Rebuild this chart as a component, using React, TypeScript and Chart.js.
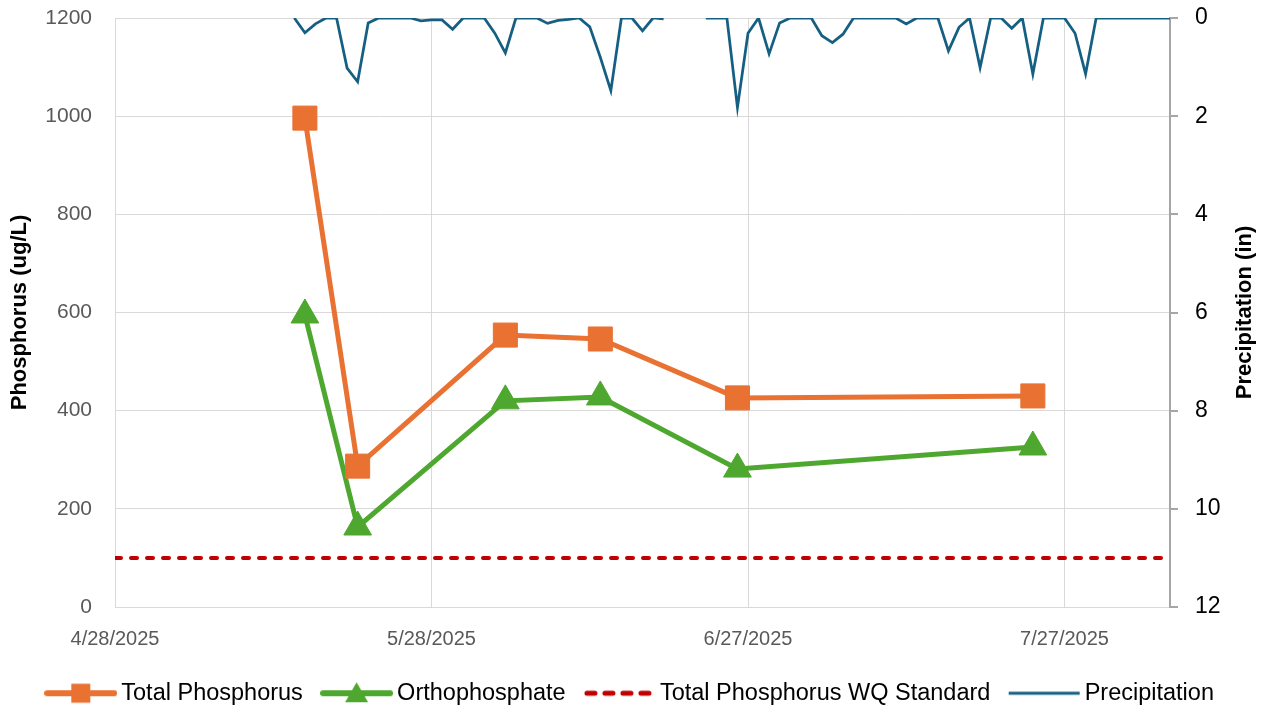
import { useEffect, useRef } from 'react';
import { Chart, registerables } from 'chart.js';

Chart.register(...registerables);

// ---- data ----
const AXIS_START = '2025-04-28';
const AXIS_END = '2025-08-06';
const xTickDates = ['2025-04-28', '2025-05-28', '2025-06-27', '2025-07-27'];
const xTickLabels = ['4/28/2025', '5/28/2025', '6/27/2025', '7/27/2025'];

const sampleDates = ['2025-05-16', '2025-05-21', '2025-06-04', '2025-06-13', '2025-06-26', '2025-07-24'];
const totalPhosphorus = [996, 287, 554, 546, 426, 430];
const orthophosphate = [595, 163, 420, 428, 281, 326];

const standardDates = ['2025-04-28', '2025-08-06'];
const standardValues = [100, 100];

// daily precipitation (in), starting 5/15/2025
const precipStart = '2025-05-15';
const precipitation: (number | null)[] = [
  0, 0.30, 0.12, 0, 0, 1.02, 1.30, 0.10, 0, 0,
  0, 0, 0.06, 0.04, 0.04, 0.23, 0, 0, 0, 0.31,
  0.71, 0, 0, 0, 0.11, 0.05, 0.03, 0, 0.18, 0.80,
  1.48, 0, 0, 0.26, 0, 0.02, null, null, null, 0,
  0, 0, 1.82, 0.31, 0, 0.73, 0.10, 0, 0, 0,
  0.36, 0.50, 0.33, 0, 0, 0, 0, 0, 0.12, 0,
  0, 0, 0.67, 0.19, 0, 1.01, 0, 0, 0.21, 0,
  1.14, 0, 0, 0, 0.31, 1.14, 0, 0, 0, 0,
  0, 0, 0, 0,
];

const leftTicks = { min: 0, max: 1200, step: 200 };
const rightTicks = { min: 0, max: 12, step: 2 };

const dayIndex = (iso: string) =>
  (Date.parse(iso + 'T00:00:00Z') - Date.parse(AXIS_START + 'T00:00:00Z')) / 86400000;

// ---- layout / style ----
const W = 1266;
const H = 710;
const PLOT_LEFT = 115;
const PLOT_RIGHT = 1170;
const PLOT_TOP = 18;
const PLOT_BOTTOM = 607;
const PAD_B = -5;

const ORANGE = '#E97132';
const GREEN = '#4EA72E';
const RED = '#C00000';
const BLUE = '#156082';
const FONT = "'Liberation Sans', Arial, sans-serif";

const LEG_FONT = 23.5;
const SYM_W = 73;
const SYM_BOX = 57.5;

function makeSymbol(kind: number): HTMLCanvasElement {
  const c = document.createElement('canvas');
  c.width = SYM_W;
  c.height = 26;
  const g = c.getContext('2d')!;
  const cy = 13;
  if (kind === 0) {
    g.strokeStyle = ORANGE;
    g.lineWidth = 6;
    g.lineCap = 'round';
    g.beginPath(); g.moveTo(3, cy); g.lineTo(SYM_W - 3, cy); g.stroke();
    g.fillStyle = ORANGE;
    g.fillRect(SYM_W / 2 - 9.5, cy - 9.5, 19, 19);
  } else if (kind === 1) {
    g.strokeStyle = GREEN;
    g.lineWidth = 6;
    g.lineCap = 'round';
    g.beginPath(); g.moveTo(3, cy); g.lineTo(SYM_W - 3, cy); g.stroke();
    g.fillStyle = GREEN;
    g.beginPath();
    g.moveTo(SYM_W / 2, cy - 11);
    g.lineTo(SYM_W / 2 + 11.5, cy + 9);
    g.lineTo(SYM_W / 2 - 11.5, cy + 9);
    g.closePath(); g.fill();
  } else if (kind === 2) {
    g.strokeStyle = RED;
    g.lineWidth = 5;
    g.lineCap = 'round';
    g.setLineDash([8, 10]);
    g.beginPath(); g.moveTo(4, cy); g.lineTo(SYM_W - 3, cy); g.stroke();
  } else {
    g.strokeStyle = BLUE;
    g.lineWidth = 3;
    g.beginPath(); g.moveTo(1, cy); g.lineTo(SYM_W - 1, cy); g.stroke();
  }
  return c;
}

const rightTitlePlugin = {
  id: 'rightTitle',
  afterDraw(chart: any) {
    const { ctx, chartArea } = chart;
    ctx.save();
    ctx.translate(1245, (chartArea.top + chartArea.bottom) / 2);
    ctx.rotate(-Math.PI / 2);
    ctx.font = `bold 22px ${FONT}`;
    ctx.fillStyle = '#000';
    ctx.textAlign = 'center';
    ctx.textBaseline = 'middle';
    ctx.fillText('Precipitation (in)', 0, 0);
    ctx.restore();
  },
};

export default function App() {
  const ref = useRef<HTMLCanvasElement>(null);

  useEffect(() => {
    document.body.style.margin = '0';
    const symbols = [0, 1, 2, 3].map(makeSymbol);
    const xMin = dayIndex(AXIS_START);
    const xMax = dayIndex(AXIS_END);
    const p0 = dayIndex(precipStart);

    const chart = new Chart(ref.current!, {
      type: 'line',
      data: {
        datasets: [
          {
            label: 'Total Phosphorus',
            data: sampleDates.map((d, i) => ({ x: dayIndex(d), y: totalPhosphorus[i] })),
            borderColor: ORANGE,
            backgroundColor: ORANGE,
            borderWidth: 5,
            pointStyle: 'rect',
            pointRadius: 17,
            pointBorderWidth: 1,
            pointBackgroundColor: ORANGE,
            pointBorderColor: ORANGE,
            tension: 0,
            yAxisID: 'y',
          },
          {
            label: 'Orthophosphate',
            data: sampleDates.map((d, i) => ({ x: dayIndex(d), y: orthophosphate[i] })),
            borderColor: GREEN,
            backgroundColor: GREEN,
            borderWidth: 5,
            pointStyle: 'triangle',
            pointRadius: 16,
            pointBorderWidth: 1,
            pointBackgroundColor: GREEN,
            pointBorderColor: GREEN,
            tension: 0,
            yAxisID: 'y',
          },
          {
            label: 'Total Phosphorus WQ Standard',
            data: standardDates.map((d, i) => ({ x: dayIndex(d), y: standardValues[i] })),
            borderColor: RED,
            backgroundColor: RED,
            borderWidth: 4,
            borderDash: [6, 10],
            borderCapStyle: 'round',
            pointRadius: 0,
            tension: 0,
            yAxisID: 'y',
          },
          {
            label: 'Precipitation',
            data: precipitation.map((v, i) => ({ x: p0 + i, y: v })),
            borderColor: BLUE,
            backgroundColor: BLUE,
            borderWidth: 2.75,
            pointRadius: 0,
            tension: 0,
            spanGaps: false,
            yAxisID: 'y2',
          },
        ] as any,
      },
      options: {
        animation: false,
        responsive: false,
        devicePixelRatio: 1,
        font: { family: FONT },
        layout: { padding: { top: PLOT_TOP, left: 0, right: 0, bottom: PAD_B } },
        plugins: {
          tooltip: { enabled: false },
          legend: {
            position: 'bottom',
            labels: {
              usePointStyle: true,
              pointStyleWidth: SYM_BOX,
              padding: 25,
              color: '#000',
              font: { family: FONT, size: LEG_FONT },
              generateLabels: (c: any) => {
                const items = (Chart.defaults.plugins.legend.labels as any).generateLabels(c);
                return items.map((it: any) => ({ ...it, pointStyle: symbols[it.datasetIndex], fontColor: '#000' }));
              },
            },
          },
        },
        scales: {
          x: {
            type: 'linear',
            min: xMin,
            max: xMax,
            afterBuildTicks: (s: any) => {
              s.ticks = xTickDates.map((d) => ({ value: dayIndex(d) }));
            },
            afterFit: (s: any) => {
              const lh = s.chart.legend ? s.chart.legend.height : 0;
              s.height = H - PAD_B - lh - PLOT_BOTTOM;
              s.paddingLeft = 0;
              s.paddingRight = 0;
            },
            ticks: {
              autoSkip: false,
              maxRotation: 0,
              padding: 20,
              color: '#595959',
              font: { family: FONT, size: 20 },
              callback: (v: any) => {
                const i = xTickDates.findIndex((d) => dayIndex(d) === v);
                return i >= 0 ? xTickLabels[i] : '';
              },
            },
            grid: { color: '#d9d9d9', lineWidth: 1, drawTicks: false },
            border: { color: '#d9d9d9', width: 1 },
          },
          y: {
            type: 'linear',
            position: 'left',
            min: leftTicks.min,
            max: leftTicks.max,
            afterFit: (s: any) => {
              s.width = PLOT_LEFT;
              s.paddingTop = 0;
              s.paddingBottom = 0;
            },
            ticks: {
              stepSize: leftTicks.step,
              padding: 23,
              color: '#595959',
              font: { family: FONT, size: 21 },
              callback: (v: any) => String(v),
            },
            grid: { color: '#d9d9d9', lineWidth: 1, drawTicks: false },
            border: { color: '#d9d9d9', width: 1 },
            title: {
              display: true,
              text: 'Phosphorus (ug/L)',
              color: '#000',
              font: { family: FONT, size: 22, weight: 'bold' },
              padding: { top: 7, bottom: 0 },
            },
          },
          y2: {
            type: 'linear',
            position: 'right',
            reverse: true,
            min: rightTicks.min,
            max: rightTicks.max,
            afterFit: (s: any) => {
              s.width = W - PLOT_RIGHT;
              s.paddingTop = 0;
              s.paddingBottom = 0;
            },
            ticks: {
              stepSize: rightTicks.step,
              padding: 17,
              color: '#000',
              font: { family: FONT, size: 23 },
              callback: (v: any) => String(v),
            },
            grid: {
              drawOnChartArea: false,
              drawTicks: true,
              tickLength: 8,
              color: '#a6a6a6',
              lineWidth: 2,
            },
            border: { color: '#a6a6a6', width: 2 },
          },
        },
      } as any,
      plugins: [rightTitlePlugin],
    });
    return () => chart.destroy();
  }, []);

  return (
    <div style={{ position: 'fixed', left: 0, top: 0, width: W, height: H, background: '#fff' }}>
      <canvas ref={ref} width={W} height={H} style={{ display: 'block' }} />
    </div>
  );
}
